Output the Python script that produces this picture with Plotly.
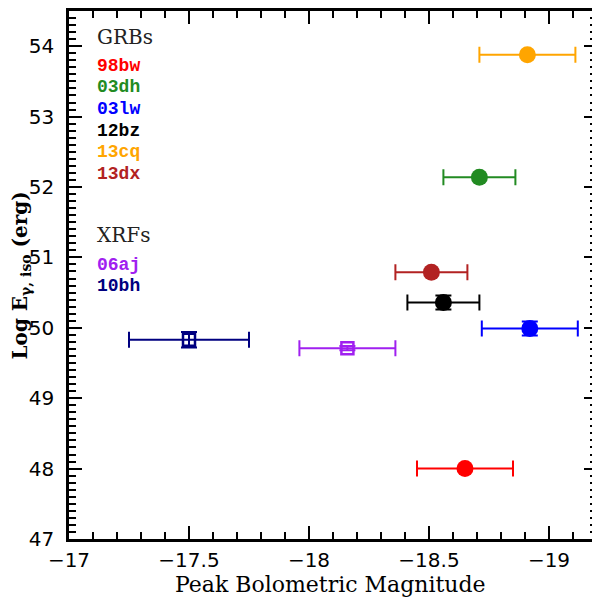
import plotly.graph_objects as go

# supernovae / bursts
names = ['98bw', '03dh', '03lw', '12bz', '13cq', '13dx', '06aj', '10bh']
kinds = ['GRB', 'GRB', 'GRB', 'GRB', 'GRB', 'GRB', 'XRF', 'XRF']
colors = ['#ff0000', '#228b22', '#0000ff', '#000000', '#ffa500', '#b22222', '#a020f0', '#000080']

peak_mag = [-18.65, -18.71, -18.92, -18.56, -18.91, -18.51, -18.16, -17.50]
peak_mag_err = [0.20, 0.15, 0.20, 0.15, 0.20, 0.15, 0.20, 0.25]
log_e_iso = [48.00, 52.14, 49.99, 50.36, 53.88, 50.79, 49.71, 49.83]
log_e_iso_err = [0.0, 0.0, 0.10, 0.10, 0.0, 0.0, 0.03, 0.11]

# the page adds an 8px body margin, so the figure is drawn 8px smaller
# and every pixel position below is given in reference-picture pixels
OFF = 8
W, H = 600 - OFF, 600 - OFF
L, R, T, B = 69 - OFF, 3, 0, 600 - 539

AXIS_FONT = dict(family='DejaVu Sans', size=20, color='black')
SERIF = 'DejaVu Serif'


def px_to_paper_y(y_px):
    return 1 - (y_px - OFF - T) / (H - T - B)


def px_to_paper_x(x_px):
    return (x_px - OFF - L) / (W - L - R)


fig = go.Figure()

for name, kind, c, x, xe, y, ye in zip(names, kinds, colors, peak_mag, peak_mag_err,
                                       log_e_iso, log_e_iso_err):
    if kind == 'GRB':
        marker = dict(symbol='circle', size=17, color=c)
    else:
        marker = dict(symbol='square-open', size=12, color=c, line=dict(width=2.5, color=c))
    fig.add_trace(go.Scatter(
        x=[x], y=[y], mode='markers', name=name, marker=marker,
        error_x=dict(type='data', array=[xe], color=c, thickness=2, width=8),
        error_y=dict(type='data', array=[ye], color=c, thickness=2, width=8, visible=ye > 0),
        showlegend=False,
    ))

axis_common = dict(
    showline=True, linewidth=2.5, linecolor='black', mirror='allticks',
    ticks='inside', ticklen=13, tickwidth=2, tickcolor='black',
    showgrid=False, zeroline=False, tickfont=AXIS_FONT,
)

fig.update_xaxes(
    range=[-17, -19.2], tick0=-17, dtick=0.5,
    minor=dict(dtick=0.1, ticks='inside', ticklen=7, tickwidth=1.5, tickcolor='black'),
    ticklabelstandoff=1,
    **axis_common,
)
fig.update_yaxes(
    range=[47, 54.5], tick0=47, dtick=1,
    minor=dict(dtick=0.1, ticks='inside', ticklen=7, tickwidth=1.5, tickcolor='black'),
    ticklabelstandoff=8,
    **axis_common,
)

annotations = []
# axis titles
annotations.append(dict(
    text='Peak Bolometric Magnitude', xref='paper', yref='paper',
    x=px_to_paper_x(330), y=px_to_paper_y(585), xanchor='center', yanchor='middle',
    showarrow=False, font=dict(family=SERIF, size=22, color='black'),
))
annotations.append(dict(
    text='<b>Log E<sub>γ, iso</sub> (erg)</b>', xref='paper', yref='paper',
    x=px_to_paper_x(21), y=px_to_paper_y(274), xanchor='center', yanchor='middle',
    textangle=-90, showarrow=False,
    font=dict(family=SERIF, size=20, color='black'),
))

# hand-made legend
legend_x = px_to_paper_x(95)
annotations.append(dict(
    text='GRBs', xref='paper', yref='paper', x=legend_x, y=px_to_paper_y(34),
    xanchor='left', yanchor='middle', showarrow=False,
    font=dict(family=SERIF, size=20, color='#222222'),
))
annotations.append(dict(
    text='XRFs', xref='paper', yref='paper', x=legend_x, y=px_to_paper_y(233),
    xanchor='left', yanchor='middle', showarrow=False,
    font=dict(family=SERIF, size=20, color='#222222'),
))
grb_i, xrf_i = 0, 0
for name, kind, c in zip(names, kinds, colors):
    if kind == 'GRB':
        y_px = 63 + 21.8 * grb_i
        grb_i += 1
    else:
        y_px = 263 + 21.8 * xrf_i
        xrf_i += 1
    annotations.append(dict(
        text='<b>%s</b>' % name, xref='paper', yref='paper', x=legend_x, y=px_to_paper_y(y_px),
        xanchor='left', yanchor='middle', showarrow=False,
        font=dict(family='Liberation Mono', size=18, color=c),
    ))

fig.update_layout(
    width=W, height=H,
    margin=dict(l=L, r=R, t=T, b=B),
    plot_bgcolor='white', paper_bgcolor='white',
    annotations=annotations,
)

fig.write_html('out.html')
